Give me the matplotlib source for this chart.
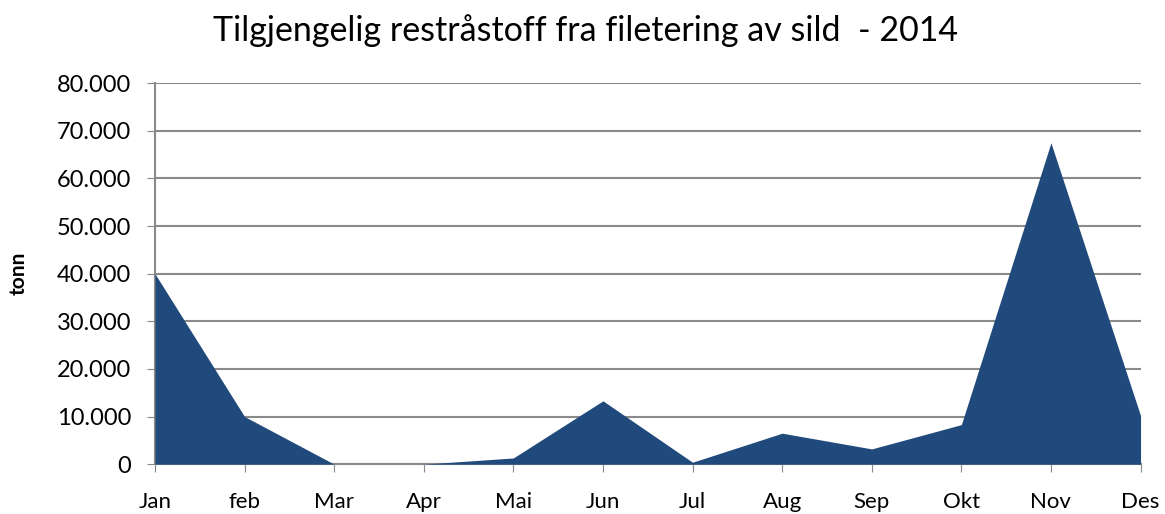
import matplotlib.pyplot as plt
from matplotlib.ticker import FuncFormatter

months = ['Jan', 'feb', 'Mar', 'Apr', 'Mai', 'Jun', 'Jul', 'Aug', 'Sep', 'Okt', 'Nov', 'Des']
tonn = [40000, 10000, 0, 0, 1300, 13300, 400, 6500, 3200, 8300, 67500, 10200]
yticks = [0, 10000, 20000, 30000, 40000, 50000, 60000, 70000, 80000]

plt.rcParams['font.family'] = ['Lato', 'DejaVu Sans']

fig = plt.figure(figsize=(11.65, 5.14), dpi=100)
ax = fig.add_axes([0.133, 0.097, 0.846, 0.741])

x = list(range(len(months)))
ax.fill_between(x, tonn, 0, color='#214a7c', linewidth=0, zorder=3)

ax.set_xlim(0, len(months) - 1)
ax.set_ylim(0, 80000)
ax.set_xticks(x)
ax.set_xticklabels(months, fontsize=16)
ax.set_yticks(yticks)
# norsk tusenskille med punktum
ax.yaxis.set_major_formatter(FuncFormatter(lambda v, p: f'{int(v):,}'.replace(',', '.')))
ax.tick_params(axis='y', labelsize=17, length=6, color='#888888', pad=11)
ax.tick_params(axis='x', length=6, color='#888888', pad=14)

ax.grid(axis='y', color='#8a8a8a', linewidth=1.5, zorder=1)
for s in ['top', 'right']:
    ax.spines[s].set_visible(False)
for s in ['left', 'bottom']:
    ax.spines[s].set_color('#8a8a8a')
    ax.spines[s].set_linewidth(1.5)

ax.set_ylabel('tonn', fontsize=15, fontweight='bold', labelpad=20)
fig.text(0.503, 0.94, 'Tilgjengelig restråstoff fra filetering av sild  - 2014',
         ha='center', va='center', fontsize=24.5)

fig.savefig('out.png', dpi=100)
